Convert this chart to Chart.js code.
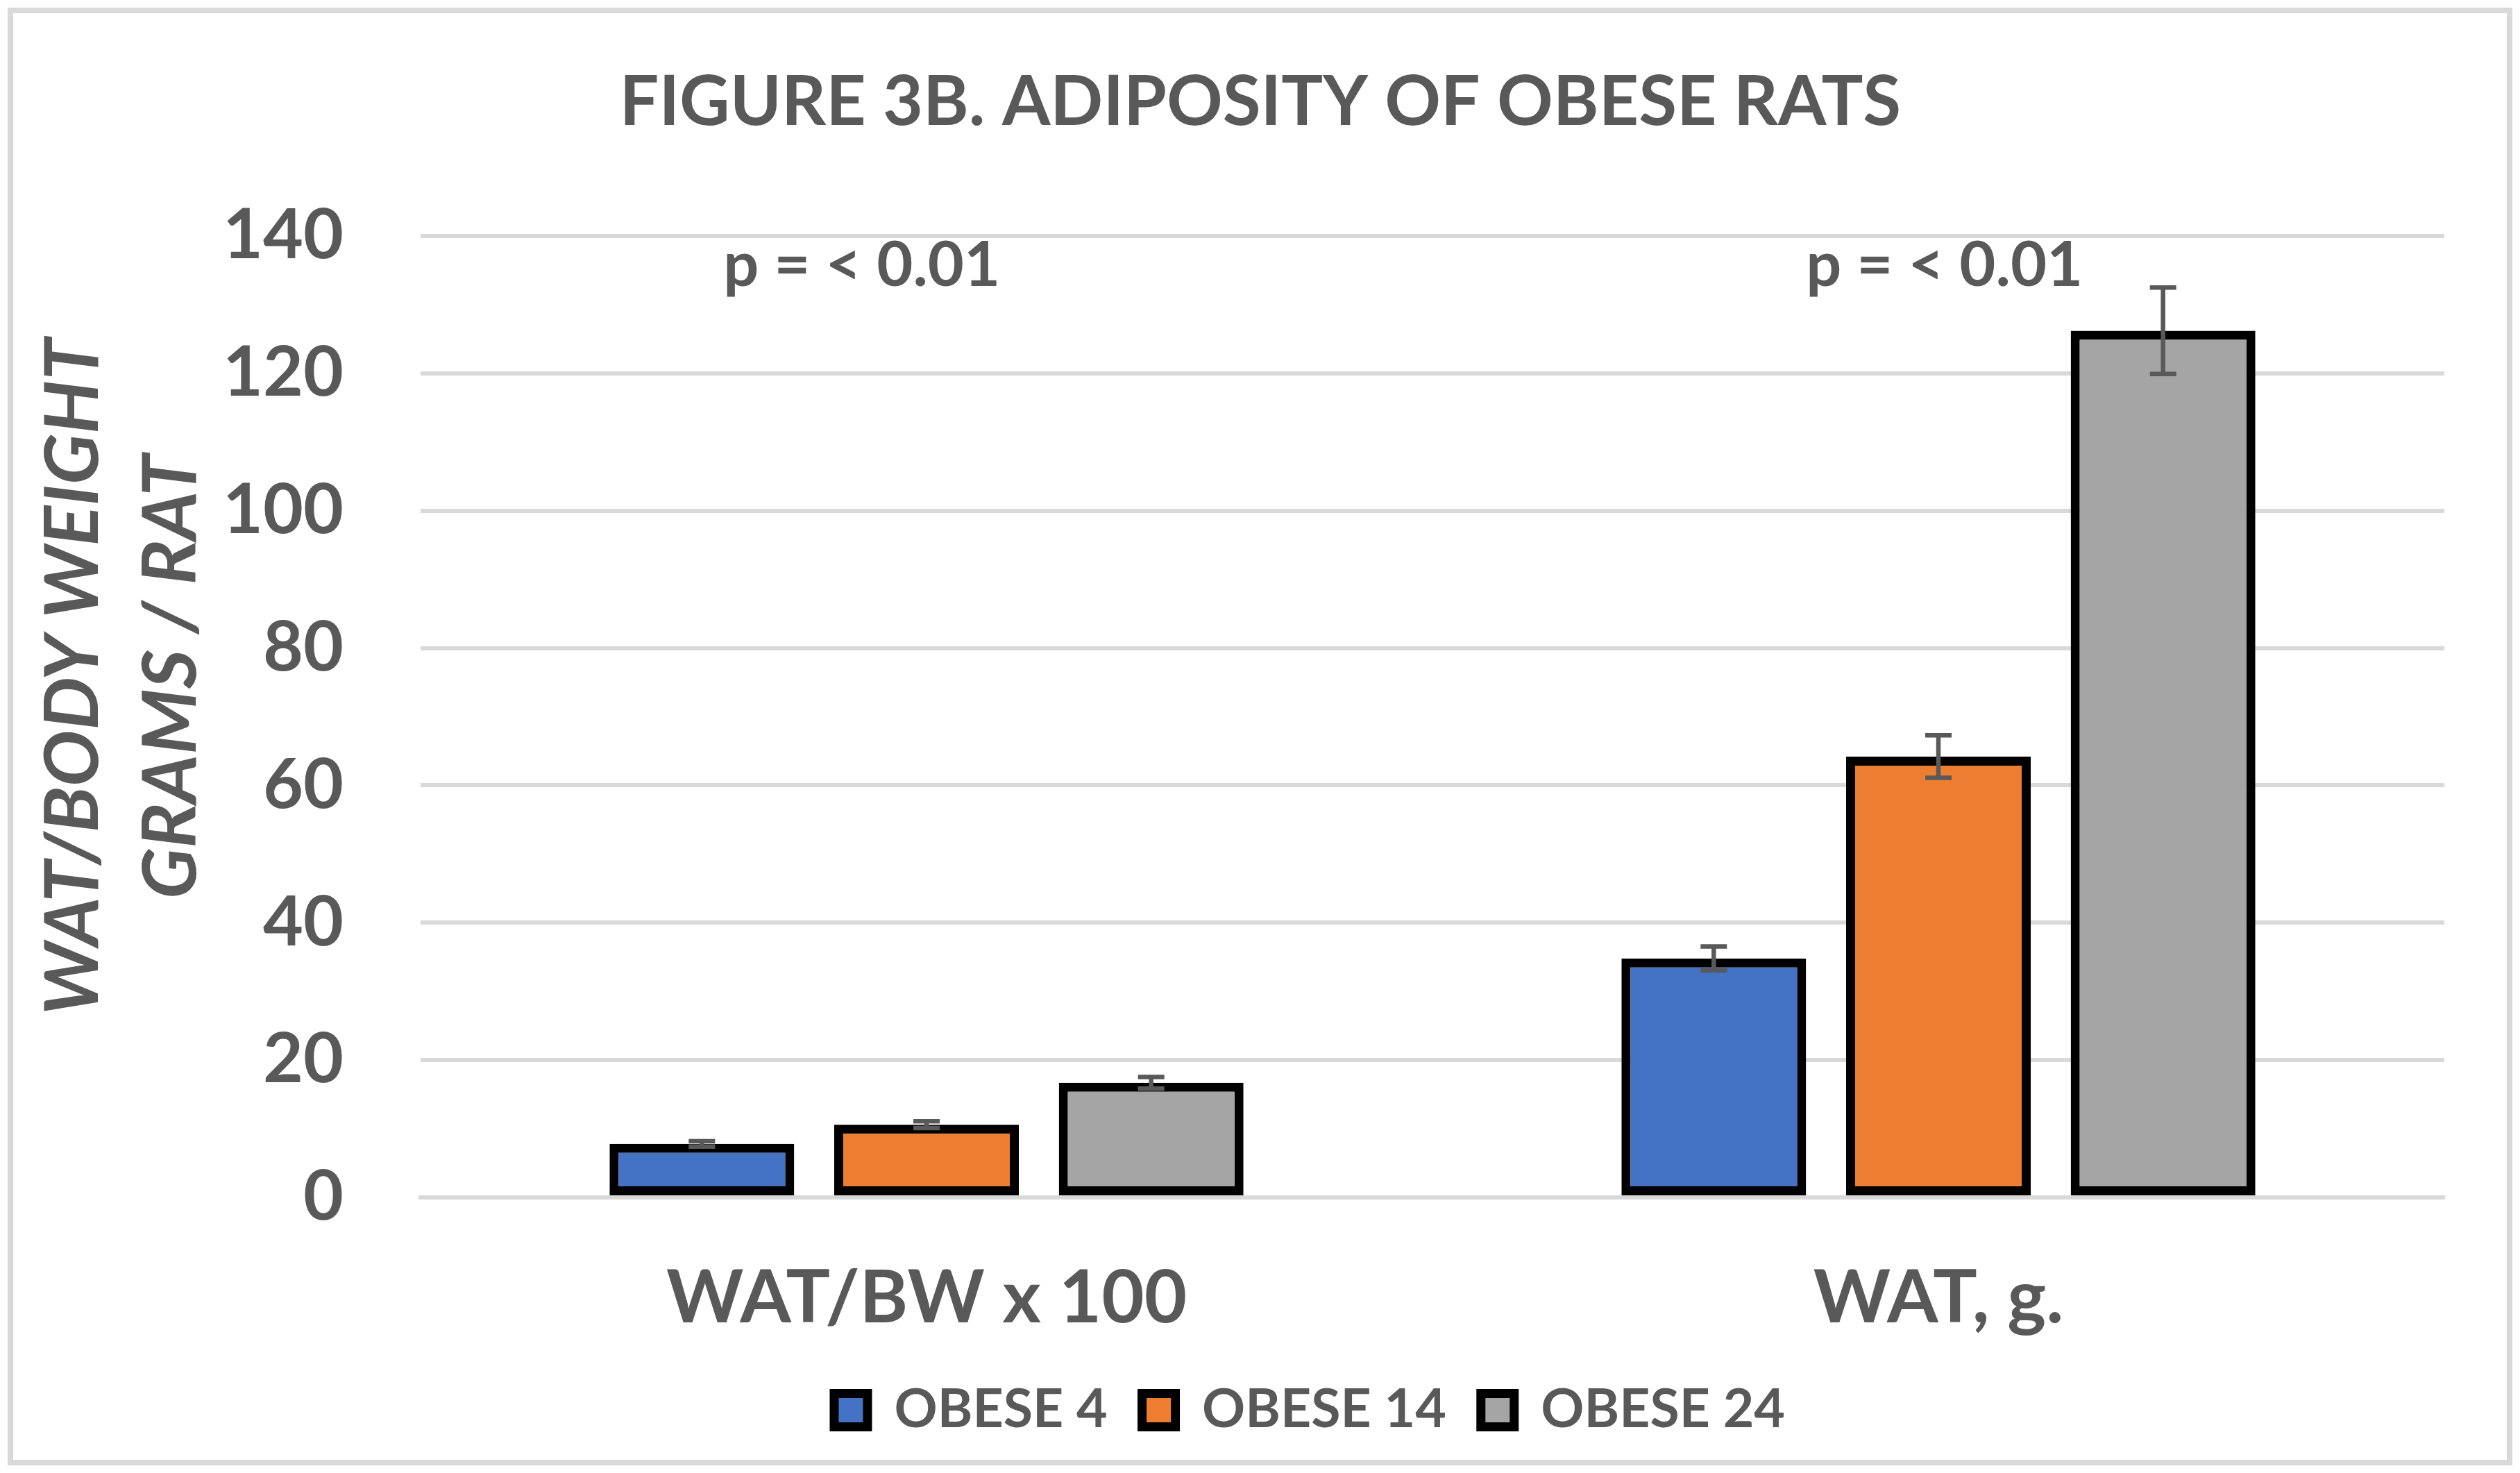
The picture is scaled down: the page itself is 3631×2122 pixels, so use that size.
<!DOCTYPE html>
<html>
<head>
<meta charset="utf-8">
<script src="https://cdn.jsdelivr.net/npm/chart.js@4.4.1/dist/chart.umd.min.js"></script>
<style>
  html, body { margin: 0; padding: 0; background: #fff; }
  #wrap { width: 3631px; height: 2122px; }
</style>
</head>
<body>
<div id="wrap"><canvas id="c" width="3631" height="2122"></canvas></div>
<script>
// --- data ---
const categories = ['WAT/BW x 100', 'WAT, g.'];
const seriesNames = ['OBESE 4', 'OBESE 14', 'OBESE 24'];
const obese4 = [7.8, 34.8];
const obese14 = [10.6, 64.2];
const obese24 = [16.7, 126.2];
const obese4Err = [0.4, 1.75];
const obese14Err = [0.5, 3.1];
const obese24Err = [0.85, 6.3];
const yTicks = [0, 20, 40, 60, 80, 100, 120, 140];
const pLabels = ['p = < 0.01', 'p = < 0.01'];
const pLabelLevel = 132.7;          // y value of the text baseline
const pLabelShift = [-0.064, 0.006]; // fraction of category width
const yTitle = ['WAT/BODY WEIGHT', 'GRAMS / RAT'];

const TEXT = '#595959';
const GRID = '#D9D9D9';
const FONT = 'Lato';
const H = 2122;
const PAD_BOTTOM = 42;
const PAD_LEFT = 110;

// white background + light frame around the figure
const frame = {
  id: 'frame',
  beforeDraw(chart) {
    const ctx = chart.ctx;
    ctx.save();
    ctx.fillStyle = '#fff';
    ctx.fillRect(0, 0, chart.width, chart.height);
    ctx.strokeStyle = GRID;
    ctx.lineWidth = 8;
    ctx.strokeRect(15, 15, chart.width - 30, chart.height - 30);
    ctx.restore();
  }
};

// the legend sits a little right of centre in the original
const legendShift = {
  id: 'legendShift',
  afterLayout(chart) {
    chart.legend.left += 71;
    chart.legend.right += 71;
  }
};

const errorBars = {
  id: 'errorBars',
  afterDatasetsDraw(chart) {
    const ctx = chart.ctx, y = chart.scales.y;
    ctx.save();
    ctx.strokeStyle = TEXT;
    ctx.lineWidth = 6.5;
    chart.data.datasets.forEach((ds, i) => {
      chart.getDatasetMeta(i).data.forEach((bar, j) => {
        const v = ds.data[j], e = ds.errors[j];
        const top = y.getPixelForValue(v + e);
        const bot = y.getPixelForValue(v - e);
        ctx.beginPath();
        ctx.moveTo(bar.x, top); ctx.lineTo(bar.x, bot);
        ctx.moveTo(bar.x - 19, top); ctx.lineTo(bar.x + 19, top);
        ctx.moveTo(bar.x - 19, bot); ctx.lineTo(bar.x + 19, bot);
        ctx.stroke();
      });
    });
    ctx.restore();
  }
};

const annotations = {
  id: 'annotations',
  afterDraw(chart) {
    const ctx = chart.ctx, x = chart.scales.x, y = chart.scales.y;
    const catW = (x.right - x.left) / categories.length;
    ctx.save();
    ctx.fillStyle = TEXT;
    ctx.textAlign = 'center';
    ctx.textBaseline = 'alphabetic';
    ctx.font = 'bold 90px ' + FONT;
    pLabels.forEach((t, i) => {
      ctx.fillText(t, x.getPixelForValue(i) + pLabelShift[i] * catW, y.getPixelForValue(pLabelLevel));
    });
    // rotated two-line y axis title
    ctx.font = 'italic bold 108px ' + FONT;
    const baselines = [141, 282];
    yTitle.forEach((t, i) => {
      ctx.save();
      ctx.translate(baselines[i], 975);
      ctx.rotate(-Math.PI / 2);
      ctx.fillText(t, 0, 0);
      ctx.restore();
    });
    ctx.restore();
  }
};

function draw() {
  const errs = [obese4Err, obese14Err, obese24Err];
  const colors = ['#4472C4', '#ED7D31', '#A5A5A5'];
  const datasets = [obese4, obese14, obese24].map((d, i) => ({
    label: seriesNames[i],
    data: d,
    errors: errs[i],
    backgroundColor: colors[i],
    borderColor: '#000',
    borderWidth: 13,
    borderSkipped: false,
    categoryPercentage: 0.666,
    barPercentage: 0.822
  }));

  new Chart(document.getElementById('c'), {
    type: 'bar',
    data: { labels: categories, datasets: datasets },
    options: {
      responsive: false,
      devicePixelRatio: 1,
      animation: false,
      layout: { padding: { left: PAD_LEFT, right: 109, top: 0, bottom: PAD_BOTTOM } },
      plugins: {
        title: {
          display: true,
          text: 'FIGURE 3B. ADIPOSITY OF OBESE RATS',
          color: TEXT,
          font: { family: FONT, size: 100, weight: 'bold', lineHeight: 1.2 },
          padding: { top: 88, bottom: 132 }
        },
        legend: {
          position: 'bottom',
          labels: {
            color: TEXT,
            font: { family: FONT, size: 77, weight: 'bold' },
            boxWidth: 48,
            boxHeight: 48,
            padding: 50
          }
        },
        tooltip: { enabled: false }
      },
      scales: {
        x: {
          grid: { display: false, drawTicks: false },
          border: { color: GRID, width: 6 },
          ticks: { color: TEXT, font: { family: FONT, size: 106, weight: 'bold', lineHeight: 1.2 }, padding: 82 },
          afterFit: s => { s.height = H - 1725 - s.chart.legend.height - PAD_BOTTOM; }
        },
        y: {
          min: 0,
          max: 140,
          afterBuildTicks: s => { s.ticks = yTicks.map(v => ({ value: v })); },
          ticks: { color: TEXT, font: { family: FONT, size: 100, weight: 'bold' }, padding: 111 },
          grid: { color: GRID, lineWidth: 6, drawTicks: false },
          border: { display: false },
          afterFit: s => { s.width = 606 - PAD_LEFT; }
        }
      }
    },
    plugins: [frame, legendShift, errorBars, annotations]
  });
}

Promise.all([
  document.fonts.load('bold 100px Lato'),
  document.fonts.load('italic bold 100px Lato')
]).then(draw, draw);
</script>
</body>
</html>
